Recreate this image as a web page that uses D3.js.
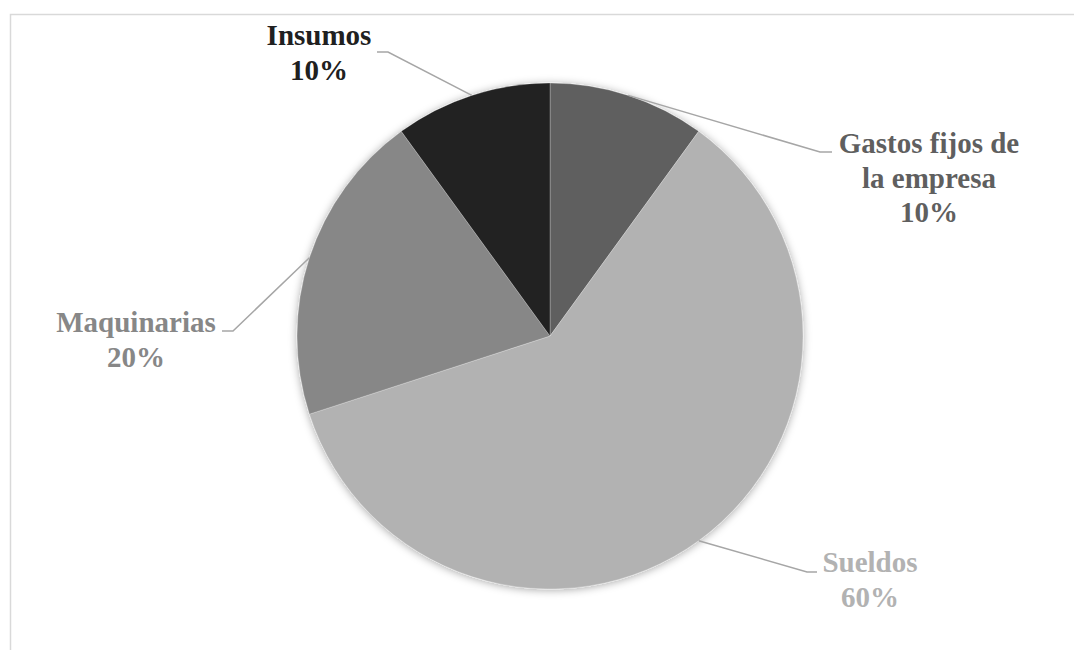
<!DOCTYPE html>
<html>
<head>
<meta charset="utf-8">
<script src="https://cdn.jsdelivr.net/npm/d3@7"></script>
<style>
  html, body { margin: 0; padding: 0; background: #fff; }
  svg { display: block; }
</style>
</head>
<body>
<div id="chart"></div>
<script>
// data
const categories = ['Gastos fijos de la empresa', 'Sueldos', 'Maquinarias', 'Insumos'];
const values = [10, 60, 20, 10];
const labelLines = [['Gastos fijos de', 'la empresa'], ['Sueldos'], ['Maquinarias'], ['Insumos']];

const colors = { 'Gastos fijos de la empresa': '#5f5f5f', 'Sueldos': '#b2b2b2',
                 'Maquinarias': '#878787', 'Insumos': '#202020' };
const leaderColor = '#a6a6a6';

let width = 1074, height = 650;
const cx = 550, cy = 336, radius = 253;

// label placement (text centre + first baseline), leader elbow & end, relative to pie centre
const labelLayout = {
  'Gastos fijos de la empresa': { tx: 379, ty: -183, elbow: [270, -184], end: [282, -184] },
  'Sueldos':                    { tx: 320, ty: 236,  elbow: [257, 236],  end: [267, 236] },
  'Maquinarias':                { tx: -414, ty: -4,  elbow: [-317, -5],  end: [-328, -5] },
  'Insumos':                    { tx: -231, ty: -291, elbow: [-162, -284], end: [-173, -284] }
};
const lineH = 34.5;

const svg = d3.select('#chart').append('svg')
  .attr('width', width).attr('height', height);

const defs = svg.append('defs');
const f = defs.append('filter').attr('id', 'shadow')
  .attr('x', '-20%').attr('y', '-20%').attr('width', '140%').attr('height', '140%');
f.append('feDropShadow').attr('dx', 0).attr('dy', 1).attr('stdDeviation', 4)
  .attr('flood-color', '#000').attr('flood-opacity', 0.35);

// chart area border
svg.append('rect')
  .attr('x', 10.5).attr('y', 14.5).attr('width', 1200).attr('height', 800)
  .attr('fill', 'none').attr('stroke', '#d9d9d9').attr('stroke-width', 1.5);

const data = categories.map((c, i) => ({ cat: c, value: values[i], lines: labelLines[i] }));

const pie = d3.pie().sort(null).value(d => d.value).startAngle(0).endAngle(2 * Math.PI);
const arc = d3.arc().innerRadius(0).outerRadius(radius);
const arcs = pie(data);

const g = svg.append('g').attr('transform', `translate(${cx},${cy})`);

g.append('g').attr('filter', 'url(#shadow)')
  .selectAll('path').data(arcs).enter().append('path')
  .attr('d', arc)
  .attr('fill', d => colors[d.data.cat])
  .attr('stroke', '#fff').attr('stroke-opacity', 0.35).attr('stroke-width', 0.75);

// leader lines
const edge = d => {
  const a = (d.startAngle + d.endAngle) / 2;
  return [radius * Math.sin(a), -radius * Math.cos(a)];
};
g.append('g').selectAll('polyline').data(arcs).enter().append('polyline')
  .attr('points', d => {
    const L = labelLayout[d.data.cat];
    return [edge(d), L.elbow, L.end].map(p => p.join(',')).join(' ');
  })
  .attr('fill', 'none').attr('stroke', leaderColor).attr('stroke-width', 1.5);

// labels
const fmt = d3.format('.0%');
const total = d3.sum(values);
const lbl = g.append('g').selectAll('text').data(arcs).enter().append('text')
  .style('font-family', "'Liberation Serif', serif")
  .style('font-weight', 'bold')
  .style('font-size', '29px')
  .attr('text-anchor', 'middle')
  .attr('fill', d => colors[d.data.cat])
  .attr('x', d => labelLayout[d.data.cat].tx)
  .attr('y', d => labelLayout[d.data.cat].ty);

lbl.each(function(d) {
  const t = d3.select(this);
  const L = labelLayout[d.data.cat];
  const lines = d.data.lines.concat([fmt(d.data.value / total)]);
  lines.forEach((s, i) => {
    t.append('tspan').attr('x', L.tx).attr('y', L.ty + i * lineH).text(s);
  });
});
</script>
</body>
</html>
